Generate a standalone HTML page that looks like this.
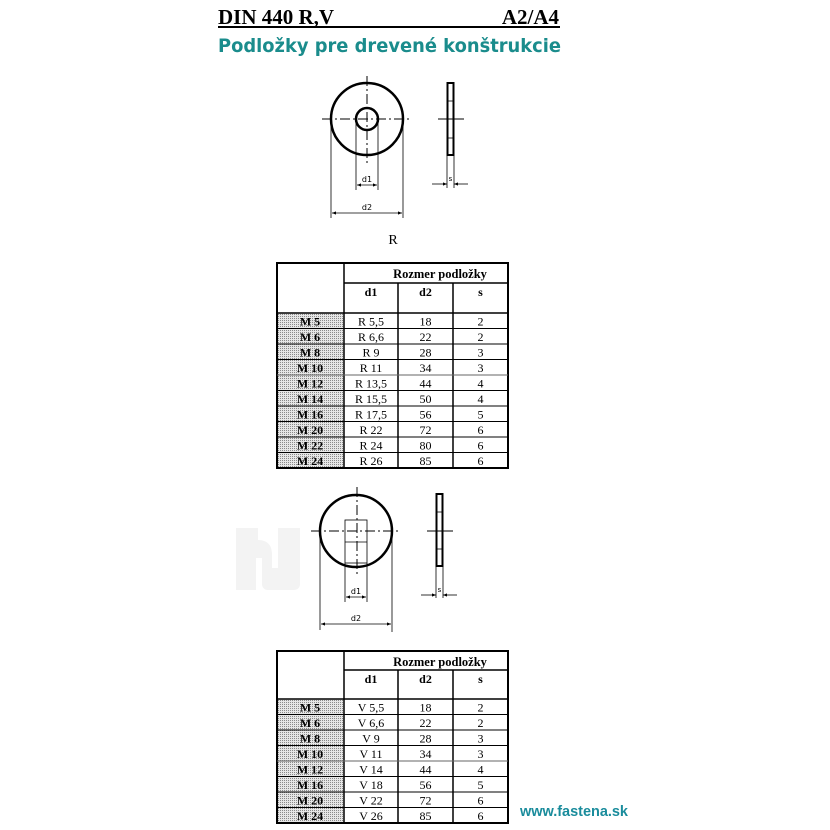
<!DOCTYPE html>
<html><head><meta charset="utf-8"><style>
html,body{margin:0;padding:0;background:#fff;}
svg{display:block;}
</style></head><body>
<svg width="830" height="830" viewBox="0 0 830 830" xmlns="http://www.w3.org/2000/svg">
<defs>
<pattern id="dots" width="2" height="2" patternUnits="userSpaceOnUse">
<rect width="2" height="2" fill="#e6e6e6"/><rect width="1" height="1" fill="#8a8a8a"/>
</pattern>
<marker id="ar" viewBox="0 0 10 10" refX="10" refY="5" markerWidth="5" markerHeight="5" orient="auto-start-reverse"><path d="M0,1 L10,5 L0,9 z" fill="#000"/></marker>
</defs>
<!-- watermark -->
<path d="M236,528 h22 v12 c10,0 14,6 14,14 v14 h6 v-40 h22 v56 c0,4 -3,6 -6,6 h-26 c-4,0 -6,-3 -6,-6 v-26 h-6 v32 h-20 z" fill="#f3f3f3"/>

<!-- title -->
<text x="218" y="24" font-family="Liberation Serif,serif" font-weight="bold" font-size="21">DIN 440 R,V</text>
<text x="559" y="24" text-anchor="end" font-family="Liberation Serif,serif" font-weight="bold" font-size="21">A2/A4</text>
<rect x="218" y="26" width="342" height="2" fill="#000"/>
<text x="218" y="52" font-family="DejaVu Sans,sans-serif" font-weight="bold" font-size="19" fill="#1a8c8c" textLength="343" lengthAdjust="spacingAndGlyphs">Podložky pre drevené konštrukcie</text>

<!-- drawing 1 -->
<g stroke="#000" fill="none">
<circle cx="367" cy="119" r="36" stroke-width="2.5"/>
<circle cx="367" cy="119" r="11" stroke-width="2.5"/>
<line x1="322" y1="119" x2="412" y2="119" stroke-width="1" stroke-dasharray="10,3,2,3"/>
<line x1="367" y1="76" x2="367" y2="165" stroke-width="1" stroke-dasharray="10,3,2,3"/>
<line x1="356" y1="119" x2="356" y2="190" stroke-width="0.8"/>
<line x1="378" y1="119" x2="378" y2="190" stroke-width="0.8"/>
<line x1="331" y1="119" x2="331" y2="218" stroke-width="0.8"/>
<line x1="403" y1="119" x2="403" y2="218" stroke-width="0.8"/>
<line x1="357" y1="185" x2="377" y2="185" stroke-width="0.8" marker-start="url(#ar)" marker-end="url(#ar)"/>
<line x1="332" y1="213" x2="402" y2="213" stroke-width="0.8" marker-start="url(#ar)" marker-end="url(#ar)"/>
<rect x="447.5" y="83" width="6" height="72" stroke-width="2"/>
<line x1="448" y1="101" x2="453" y2="101" stroke-width="0.8"/>
<line x1="448" y1="138" x2="453" y2="138" stroke-width="0.8"/>
<line x1="438" y1="119" x2="464" y2="119" stroke-width="1"/>
<line x1="447" y1="155" x2="447" y2="188" stroke-width="0.8"/>
<line x1="454" y1="155" x2="454" y2="188" stroke-width="0.8"/>
<line x1="432" y1="184" x2="447" y2="184" stroke-width="0.8" marker-end="url(#ar)"/>
<line x1="468" y1="184" x2="454" y2="184" stroke-width="0.8" marker-end="url(#ar)"/>
</g>
<g font-family="DejaVu Sans,sans-serif" font-size="8">
<text x="367" y="182" text-anchor="middle">d1</text>
<text x="367" y="210" text-anchor="middle">d2</text>
<text x="450.5" y="181" text-anchor="middle" font-size="7">s</text>
</g>
<text x="393" y="244" text-anchor="middle" font-family="Liberation Serif,serif" font-size="14">R</text>

<!-- table 1 -->
<g font-family="Liberation Serif,serif" font-size="12">
<rect x="277" y="313" width="67" height="155" fill="url(#dots)"/>
<g stroke="#000" fill="none">
<rect x="277" y="263" width="231" height="205" stroke-width="2"/>
<line x1="344" y1="263" x2="344" y2="468" stroke-width="1.5"/>
<line x1="344" y1="283" x2="508" y2="283" stroke-width="1.5"/>
<line x1="398" y1="283" x2="398" y2="468" stroke-width="1.5"/>
<line x1="453" y1="283" x2="453" y2="468" stroke-width="1.5"/>
<line x1="277" y1="313" x2="508" y2="313" stroke-width="1.5"/>
<line x1="277" y1="328.5" x2="508" y2="328.5"/>
<line x1="277" y1="344" x2="508" y2="344"/>
<line x1="277" y1="359.5" x2="508" y2="359.5"/>
<line x1="277" y1="375" x2="508" y2="375" stroke="#666"/>
<line x1="277" y1="390.5" x2="508" y2="390.5"/>
<line x1="277" y1="406" x2="508" y2="406"/>
<line x1="277" y1="421.5" x2="508" y2="421.5"/>
<line x1="277" y1="437" x2="508" y2="437"/>
<line x1="277" y1="452.5" x2="508" y2="452.5"/>
</g>
<text x="440" y="278" text-anchor="middle" font-weight="bold" font-size="12.5">Rozmer podložky</text>
<text x="371" y="296" text-anchor="middle" font-weight="bold">d1</text>
<text x="425.5" y="296" text-anchor="middle" font-weight="bold">d2</text>
<text x="480.5" y="296" text-anchor="middle" font-weight="bold">s</text>
<g text-anchor="middle">
<g font-weight="bold">
<text x="310" y="325.5">M 5</text><text x="310" y="341">M 6</text><text x="310" y="356.5">M 8</text><text x="310" y="372">M 10</text><text x="310" y="387.5">M 12</text><text x="310" y="403">M 14</text><text x="310" y="418.5">M 16</text><text x="310" y="434">M 20</text><text x="310" y="449.5">M 22</text><text x="310" y="465">M 24</text>
</g>
<text x="371" y="325.5">R 5,5</text><text x="371" y="341">R 6,6</text><text x="371" y="356.5">R 9</text><text x="371" y="372">R 11</text><text x="371" y="387.5">R 13,5</text><text x="371" y="403">R 15,5</text><text x="371" y="418.5">R 17,5</text><text x="371" y="434">R 22</text><text x="371" y="449.5">R 24</text><text x="371" y="465">R 26</text>
<text x="425.5" y="325.5">18</text><text x="425.5" y="341">22</text><text x="425.5" y="356.5">28</text><text x="425.5" y="372">34</text><text x="425.5" y="387.5">44</text><text x="425.5" y="403">50</text><text x="425.5" y="418.5">56</text><text x="425.5" y="434">72</text><text x="425.5" y="449.5">80</text><text x="425.5" y="465">85</text>
<text x="480.5" y="325.5">2</text><text x="480.5" y="341">2</text><text x="480.5" y="356.5">3</text><text x="480.5" y="372">3</text><text x="480.5" y="387.5">4</text><text x="480.5" y="403">4</text><text x="480.5" y="418.5">5</text><text x="480.5" y="434">6</text><text x="480.5" y="449.5">6</text><text x="480.5" y="465">6</text>
</g>
</g>

<!-- drawing 2 -->
<g stroke="#000" fill="none">
<circle cx="356" cy="531" r="36" stroke-width="2.5"/>
<rect x="345" y="520" width="22" height="43" stroke-width="0.8"/>
<line x1="345" y1="542" x2="367" y2="542" stroke-width="0.8"/>
<line x1="311" y1="531" x2="400" y2="531" stroke-width="1" stroke-dasharray="10,3,2,3"/>
<line x1="357" y1="487" x2="357" y2="576" stroke-width="1" stroke-dasharray="10,3,2,3"/>
<line x1="345" y1="563" x2="345" y2="602" stroke-width="0.8"/>
<line x1="367" y1="563" x2="367" y2="602" stroke-width="0.8"/>
<line x1="320" y1="531" x2="320" y2="630" stroke-width="0.8"/>
<line x1="392" y1="531" x2="392" y2="632" stroke-width="0.8"/>
<line x1="346" y1="597" x2="366" y2="597" stroke-width="0.8" marker-start="url(#ar)" marker-end="url(#ar)"/>
<line x1="321" y1="624" x2="391" y2="624" stroke-width="0.8" marker-start="url(#ar)" marker-end="url(#ar)"/>
<rect x="436.5" y="494" width="6" height="72" stroke-width="2"/>
<line x1="437" y1="512" x2="442" y2="512" stroke-width="0.8"/>
<line x1="437" y1="549" x2="442" y2="549" stroke-width="0.8"/>
<line x1="427" y1="531" x2="453" y2="531" stroke-width="1"/>
<line x1="436" y1="566" x2="436" y2="598" stroke-width="0.8"/>
<line x1="443" y1="566" x2="443" y2="598" stroke-width="0.8"/>
<line x1="421" y1="595" x2="436" y2="595" stroke-width="0.8" marker-end="url(#ar)"/>
<line x1="457" y1="595" x2="443" y2="595" stroke-width="0.8" marker-end="url(#ar)"/>
</g>
<g font-family="DejaVu Sans,sans-serif" font-size="8">
<text x="356" y="594" text-anchor="middle">d1</text>
<text x="356" y="621" text-anchor="middle">d2</text>
<text x="439.5" y="592" text-anchor="middle" font-size="7">s</text>
</g>

<!-- table 2 -->
<g font-family="Liberation Serif,serif" font-size="12">
<rect x="277" y="699" width="67" height="124" fill="url(#dots)"/>
<g stroke="#000" fill="none">
<rect x="277" y="651" width="231" height="172" stroke-width="2"/>
<line x1="344" y1="651" x2="344" y2="823" stroke-width="1.5"/>
<line x1="344" y1="670" x2="508" y2="670" stroke-width="1.5"/>
<line x1="398" y1="670" x2="398" y2="823" stroke-width="1.5"/>
<line x1="453" y1="670" x2="453" y2="823" stroke-width="1.5"/>
<line x1="277" y1="699" x2="508" y2="699" stroke-width="1.5"/>
<line x1="277" y1="714.5" x2="508" y2="714.5"/>
<line x1="277" y1="730" x2="508" y2="730"/>
<line x1="277" y1="745.5" x2="508" y2="745.5"/>
<line x1="277" y1="761" x2="508" y2="761" stroke="#666"/>
<line x1="277" y1="776.5" x2="508" y2="776.5"/>
<line x1="277" y1="792" x2="508" y2="792"/>
<line x1="277" y1="807.5" x2="508" y2="807.5"/>
</g>
<text x="440" y="666" text-anchor="middle" font-weight="bold" font-size="12.5">Rozmer podložky</text>
<text x="371" y="683" text-anchor="middle" font-weight="bold">d1</text>
<text x="425.5" y="683" text-anchor="middle" font-weight="bold">d2</text>
<text x="480.5" y="683" text-anchor="middle" font-weight="bold">s</text>
<g text-anchor="middle">
<g font-weight="bold">
<text x="310" y="711.5">M 5</text><text x="310" y="727">M 6</text><text x="310" y="742.5">M 8</text><text x="310" y="758">M 10</text><text x="310" y="773.5">M 12</text><text x="310" y="789">M 16</text><text x="310" y="804.5">M 20</text><text x="310" y="820">M 24</text>
</g>
<text x="371" y="711.5">V 5,5</text><text x="371" y="727">V 6,6</text><text x="371" y="742.5">V 9</text><text x="371" y="758">V 11</text><text x="371" y="773.5">V 14</text><text x="371" y="789">V 18</text><text x="371" y="804.5">V 22</text><text x="371" y="820">V 26</text>
<text x="425.5" y="711.5">18</text><text x="425.5" y="727">22</text><text x="425.5" y="742.5">28</text><text x="425.5" y="758">34</text><text x="425.5" y="773.5">44</text><text x="425.5" y="789">56</text><text x="425.5" y="804.5">72</text><text x="425.5" y="820">85</text>
<text x="480.5" y="711.5">2</text><text x="480.5" y="727">2</text><text x="480.5" y="742.5">3</text><text x="480.5" y="758">3</text><text x="480.5" y="773.5">4</text><text x="480.5" y="789">5</text><text x="480.5" y="804.5">6</text><text x="480.5" y="820">6</text>
</g>
</g>
<text x="520" y="816" font-family="Liberation Sans,sans-serif" font-size="14.5" font-weight="bold" fill="#1a8c9c" textLength="108">www.fastena.sk</text>
</svg>
</body></html>
